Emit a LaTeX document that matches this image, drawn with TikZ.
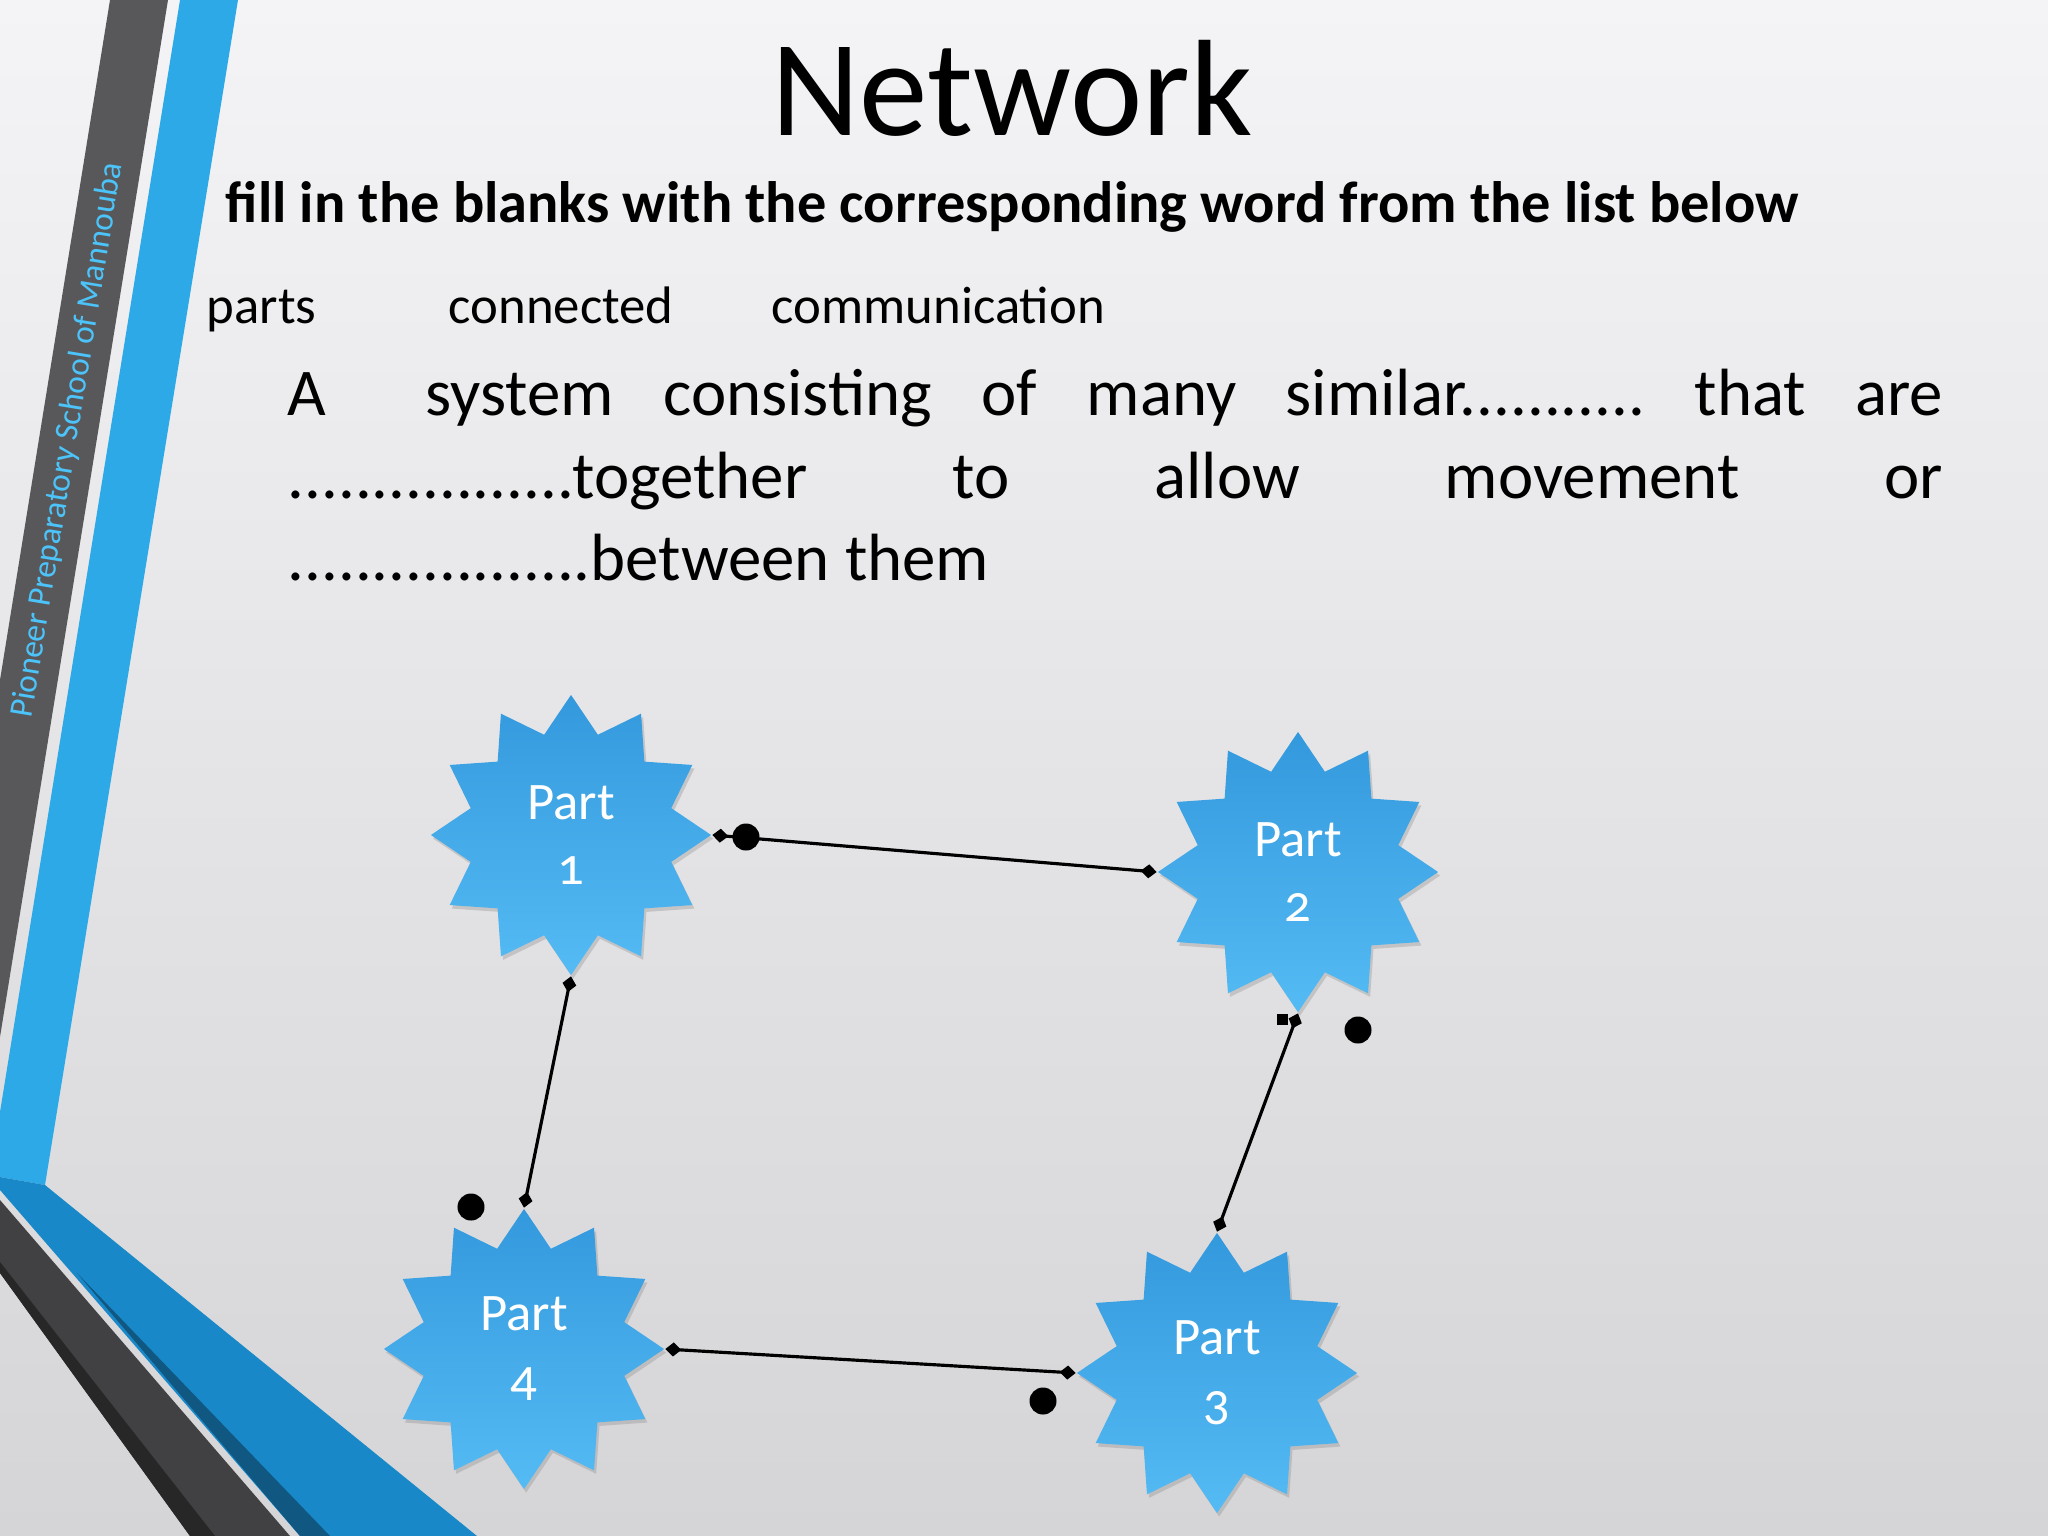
\documentclass[tikz,border=0pt]{standalone}
\usepackage{fontspec}
\setmainfont{Carlito}[Numbers=OldStyle]
\usetikzlibrary{arrows.meta,positioning,shapes.geometric,shadows}
\frenchspacing
\definecolor{slidetop}{HTML}{F4F4F6}
\definecolor{slidebot}{HTML}{D5D5D7}
\definecolor{bandgray}{HTML}{58585A}
\definecolor{banddark}{HTML}{414042}
\definecolor{bandblue}{HTML}{2EA9E7}
\definecolor{banddeep}{HTML}{1888C8}
\definecolor{starhi}{HTML}{3399DD}
\definecolor{starlo}{HTML}{55BBF4}
\definecolor{schoolblue}{HTML}{4CC4FA}
\tikzset{
  part/.style={star,star points=12,star point ratio=1.35,minimum size=2.8cm,
    inner sep=0pt,top color=starhi,bottom color=starlo,draw=none,text=white,
    align=center,font=\fontsize{15}{18.5}\selectfont,
    drop shadow={shadow xshift=0.6pt,shadow yshift=-1pt,opacity=0.3}},
  link/.style={{Diamond[length=1.6mm,width=1.4mm]}-{Diamond[length=1.6mm,width=1.4mm]},
    line width=0.9pt},
  blob/.style={circle,fill=black,inner sep=0pt,minimum size=0.27cm},
  nub/.style={rectangle,fill=black,inner sep=0pt,minimum size=0.11cm},
  heading/.style={font=\fontsize{39}{46}\selectfont,inner sep=0pt},
  task/.style={font=\bfseries\fontsize{16.6}{20}\selectfont,inner sep=0pt},
  word/.style={font=\fontsize{15}{18}\selectfont,inner sep=0pt},
  gapline/.style={font=\fontsize{19}{23}\selectfont,inner sep=0pt}
}
\begin{document}
\begin{tikzpicture}[x=0.01cm,y=-0.01cm]
% slide background
\shade[top color=slidetop,bottom color=slidebot] (0,0) rectangle (2048,1536);
\useasboundingbox (0,0) rectangle (2048,1536);
% side bands
\fill[bandgray] (110,0) -- (168,0) -- (0,1037) -- (0,680) -- cycle;
\fill[bandblue] (180,0) -- (238,0) -- (45,1185) -- (0,1177) -- (0,1112) -- cycle;
\fill[banddeep] (0,1177) -- (45,1185) -- (477,1536) -- (300,1536) -- (0,1190) -- cycle;
\fill[banddeep!65!black] (77,1273) -- (300,1536) -- (330,1536) -- cycle;
\fill[banddark] (0,1200) -- (290,1536) -- (190,1536) -- (0,1273) -- cycle;
\fill[banddark!60!black] (0,1262) -- (0,1273) -- (190,1536) -- (215,1536) -- cycle;
\begin{scope}[y=0.01cm]
\node[rotate=80.7,text=schoolblue,font=\fontsize{9.5}{11}\selectfont] (school) at (68,-440)
  {Pioneer Preparatory School of Mannouba};
\end{scope}

% texts
\node[heading,anchor=base] (title) at (1012,135) {Network};
\node[task,anchor=base west] (task) at (225,222)
  {fill in the blanks with the corresponding word from the list below};
\node[word,anchor=base west] (w1) at (206,323) {parts};
\node[word,anchor=base west] (w2) at (448,323) {connected};
\node[word,anchor=base west] (w3) at (771,323) {communication};
\node[gapline,anchor=base west] (l1) at (287,415)
  {\makebox[16.55cm][s]{A\ \ system consisting of many similar........... that are}};
\node[gapline,anchor=base west] (l2) at (287,498)
  {\makebox[16.55cm][s]{.................together to allow movement or}};
\node[gapline,anchor=base west] (l3) at (287,580) {..................between them};

% parts of the network
\node[part] (p1) at (571,835) {Part\\1};
\node[part] (p2) at (1298,872) {Part\\2};
\node[part] (p3) at (1217,1373) {Part\\3};
\node[part] (p4) at (524,1349) {Part\\4};
\draw[link] (p1.0) -- (p2.180);
\draw[link] (p1.270) -- (p4.90);
\draw[link] (p2.270) -- (p3.90);
\draw[link] (p4.0) -- (p3.180);

% loose dots
\node[blob] (b1) at (746,837) {};
\node[blob] (b2) at (1358,1030) {};
\node[nub] (sq) at (1282,1019) {};
\node[blob] (b3) at (471,1207) {};
\node[blob] (b4) at (1043,1401) {};
\end{tikzpicture}
\end{document}
